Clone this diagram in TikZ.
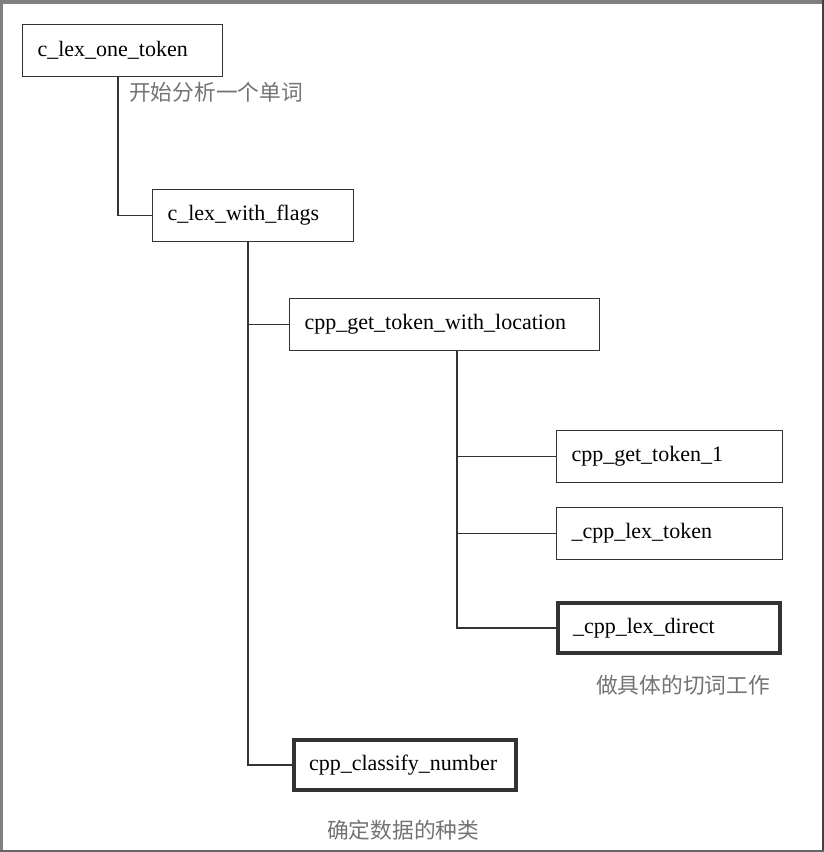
\documentclass[tikz,border=0pt]{standalone}
\usepackage{fontspec}
\setmainfont{Liberation Serif}
\newfontfamily\cjk{Noto Sans CJK SC}
\tikzset{
  fn/.style={draw=black!80, line width=1.1pt, anchor=north west, minimum height=52pt,
    inner xsep=15pt, text width=#1, align=left, font=\fontsize{22}{26}\selectfont},
  fnkey/.style={fn=#1, line width=3.6pt, outer sep=0pt, minimum height=50pt},
  note/.style={anchor=west, inner sep=0pt, text=black!55, font=\cjk\fontsize{21.7}{24}\selectfont},
  link/.style={draw=black!80, line width=1.1pt}
}
\begin{document}
\begin{tikzpicture}[x=1pt,y=-1pt]
    \useasboundingbox (0,0) rectangle (824,852);
    \fill [black!50] (0,0) rectangle (3,852);
    \fill [black!50] (0,0) rectangle (824,4);
    \fill [black!75] (822,0) rectangle (824,852);
    \fill [black!60] (0,850) rectangle (824,852);
    \node [fn=170pt] (lexone) at (22,24) {c\_lex\_one\_token};
    \node [fn=171pt] (lexflags) at (152,189) {c\_lex\_with\_flags};
    \node [fn=280pt] (getloc) at (289,298) {cpp\_get\_token\_with\_location};
    \node [fn=196pt] (gettok) at (556,430) {cpp\_get\_token\_1};
    \node [fn=196pt] (lextok) at (556,507) {\_cpp\_lex\_token};
    \node [fnkey=192pt] (lexdirect) at (558,603) {\_cpp\_lex\_direct};
    \node [fnkey=192pt] (classify) at (294,740) {cpp\_classify\_number};
    \node [note] (noteone) at (129,92) {开始分析一个单词};
    \node [note] (notedirect) at (596,685) {做具体的切词工作};
    \node [note] (noteclassify) at (327,830) {确定数据的种类};
    \draw [link] ([xshift=96pt]lexone.south west) |- (lexflags.west);
    \draw [link] ([xshift=96pt]lexflags.south west) |- (getloc.west);
    \draw [link] ([xshift=96pt]lexflags.south west) |- (classify.west);
    \draw [link] ([xshift=168pt]getloc.south west) |- (gettok.west);
    \draw [link] ([xshift=168pt]getloc.south west) |- (lextok.west);
    \draw [link] ([xshift=168pt]getloc.south west) |- (lexdirect.west);
\end{tikzpicture}
\end{document}
